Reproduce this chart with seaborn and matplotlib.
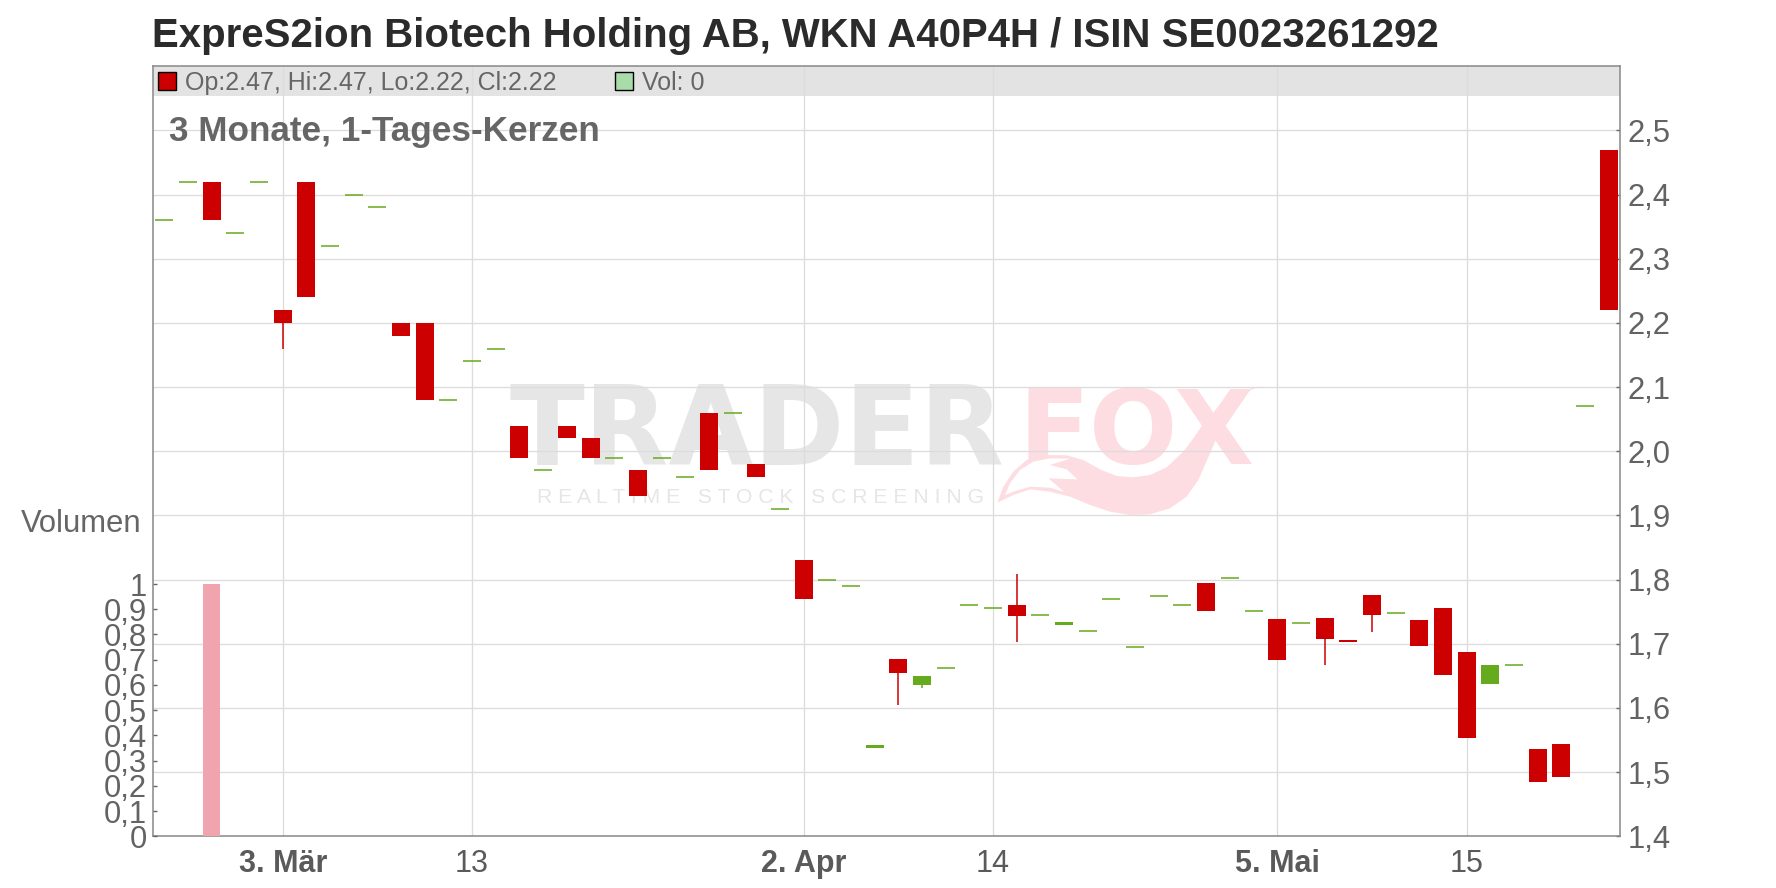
import numpy as np
import pandas as pd
import matplotlib
matplotlib.use('Agg')
import matplotlib.pyplot as plt
from matplotlib.patches import Polygon, Rectangle
from matplotlib.transforms import Affine2D
import seaborn as sns

# ----------------------------------------------------------------------
# Data (x = trading day index)
# ----------------------------------------------------------------------
red_idx = [2, 5, 6, 10, 11, 15, 17, 18, 20, 23, 25, 27, 31, 36, 44, 47, 49, 50, 51, 53, 54, 55, 58, 59, 61]
red_top = [2.42, 2.22, 2.42, 2.20, 2.20, 2.04, 2.04, 2.02, 1.97, 2.06, 1.98, 1.83, 1.677, 1.76, 1.795,
           1.739, 1.74, 1.706, 1.776, 1.737, 1.756, 1.687, 1.536, 1.544, 2.47]
red_bottom = [2.36, 2.20, 2.24, 2.18, 2.08, 1.99, 2.02, 1.99, 1.93, 1.97, 1.96, 1.77, 1.655, 1.744, 1.751,
              1.674, 1.707, 1.703, 1.745, 1.697, 1.651, 1.553, 1.485, 1.493, 2.22]

green_idx = [30, 32, 38, 56]
green_top = [1.542, 1.65, 1.734, 1.667]
green_bottom = [1.538, 1.635, 1.73, 1.638]

dash_idx = [0, 1, 3, 4, 7, 8, 9, 12, 13, 14, 16, 19, 21, 22, 24, 26, 28, 29, 33, 34, 35, 37, 39, 40, 41,
            42, 43, 45, 46, 48, 52, 57, 60]
dash_val = [2.36, 2.42, 2.34, 2.42, 2.32, 2.40, 2.38, 2.08, 2.14, 2.16, 1.97, 1.99, 1.99, 1.96, 2.06,
            1.91, 1.80, 1.79, 1.662, 1.76, 1.755, 1.745, 1.72, 1.77, 1.695, 1.775, 1.76, 1.802, 1.751,
            1.732, 1.748, 1.667, 2.07]

wick_idx = [5, 31, 36, 49, 51]
wick_low = [2.16, 1.605, 1.703, 1.667, 1.719]
wick_high = [2.20, 1.655, 1.808, 1.707, 1.745]
green_wick_idx = [32]
green_wick_low = [1.631]
green_wick_high = [1.635]

vol_idx = [2]
vol_val = [1]

price_ticks = [1.4, 1.5, 1.6, 1.7, 1.8, 1.9, 2.0, 2.1, 2.2, 2.3, 2.4, 2.5]
vol_ticks = [0, 0.1, 0.2, 0.3, 0.4, 0.5, 0.6, 0.7, 0.8, 0.9, 1]
date_idx = [5, 13, 27, 35, 47, 55]
date_labels = ['3. Mär', '13', '2. Apr', '14', '5. Mai', '15']
date_bold = [True, False, True, False, True, False]

RED = '#cc0000'
GREEN = '#66aa1e'
GREY_TXT = '#666666'
PINK = '#fddde2'
W, H = 1776, 888

sns.set_theme(style='white')
plt.rcParams['font.family'] = ['Liberation Sans', 'DejaVu Sans']

fig = plt.figure(figsize=(W / 100, H / 100), dpi=100, facecolor='white')
ax = fig.add_axes([152.7 / W, 1 - 836.3 / H, (1620.3 - 152.7) / W, (836.3 - 65.7) / H])
px = Affine2D().scale(1, -1).translate(0, H)  # top-left pixel coords

# ----------------------------------------------------------------------
# Candles
# ----------------------------------------------------------------------
bodies = pd.DataFrame({
    'idx': red_idx + green_idx,
    'top': red_top + green_top,
    'bottom': red_bottom + green_bottom,
    'col': [RED] * len(red_idx) + [GREEN] * len(green_idx),
}).sort_values('idx')
bodies['height'] = bodies['top'] - bodies['bottom']

sns.barplot(data=bodies, x='idx', y='height', bottom=bodies['bottom'].values, native_scale=True,
            width=0.76, errorbar=None, saturation=1, color=RED, linewidth=0, ax=ax, zorder=3)
for patch, col in zip(ax.patches, bodies['col']):
    patch.set_facecolor(col)
    patch.set_edgecolor(col)

ax.vlines(wick_idx, wick_low, wick_high, color=RED, lw=1.1, zorder=2.5)
ax.vlines(green_wick_idx, green_wick_low, green_wick_high, color=GREEN, lw=1.1, zorder=2.5)
sns.scatterplot(x=dash_idx, y=dash_val, marker='_', s=168, color=GREEN, linewidth=1.1, ax=ax, zorder=3)

ax.set_xlim(-0.49, 61.49)
ax.set_ylim(1.4, 2.6007)
ax.set_xlabel('')
ax.set_ylabel('')

# header band
ax.axhspan(2.554, 2.6007, color='#e3e3e3', lw=0, zorder=0.4)

# ----------------------------------------------------------------------
# Axes, grid, ticks
# ----------------------------------------------------------------------
ax2 = ax.twinx()  # volume gets its own left axis, twinx flips the sides so fix them below

ax.set_axisbelow(True)
ax.set_xticks(date_idx)
ax.set_xticklabels(date_labels)
for lab, bold in zip(ax.get_xticklabels(), date_bold):
    lab.set_fontweight('bold' if bold else 'normal')
ax.yaxis.tick_right()
ax.set_yticks(price_ticks)
ax.set_yticklabels([f'{v:.1f}'.replace('.', ',') for v in price_ticks])
ax.grid(True, color='#dcdcdc', lw=0.95)
ax.tick_params(axis='x', direction='out', length=2.5, width=1, color='#666666',
               labelsize=22, labelcolor='#5a5a5a', pad=7)
ax.tick_params(axis='y', direction='in', length=3.1, width=1, color='#666666',
               labelsize=22.3, labelcolor='#636363', pad=5)
for s in ax.spines.values():
    s.set_color('#888888')
    s.set_linewidth(1.1)

vol = pd.DataFrame({'idx': vol_idx, 'vol': vol_val})
sns.barplot(data=vol, x='idx', y='vol', native_scale=True, width=0.72, errorbar=None, saturation=1,
            color='#efa4ae', linewidth=0, ax=ax2)
ax2.set_xlim(-0.49, 61.49)
ax2.set_ylim(0, (836.3 - 65.7) / 252.3)
ax2.set_xlabel('')
ax2.set_ylabel('')
ax2.yaxis.tick_left()
ax2.set_yticks(vol_ticks)
ax2.set_yticklabels(['0' if v == 0 else '1' if v == 1 else f'{v:.1f}'.replace('.', ',') for v in vol_ticks])
ax2.tick_params(axis='y', direction='in', length=3.1, width=1, color='#666666',
                labelsize=22.3, labelcolor='#636363', pad=4)
ax2.grid(False)
for s in ax2.spines.values():
    s.set_visible(False)

# ----------------------------------------------------------------------
# Watermark
# ----------------------------------------------------------------------
ax.text(509, 465, 'TRADER', transform=px, fontsize=79, fontweight='bold', family='DejaVu Sans',
        color='#e6e6e6', va='baseline', ha='left', zorder=0.3)
ax.text(1018, 464, 'FOX', transform=px, fontsize=75, fontweight='bold', family='DejaVu Sans',
        color=PINK, va='baseline', ha='left', zorder=0.3)
ax.text(537, 503, 'R E A L T I M E   S T O C K   S C R E E N I N G', transform=px, fontsize=15.2,
        color='#e6e6e6', va='baseline', ha='left', zorder=0.3)


def logo_pt(zx, zy):
    return 990 + zx / 3, 380 + zy / 3


tail = [(22, 368), (40, 320), (70, 275), (110, 240), (170, 225), (230, 226), (280, 240), (330, 268),
        (380, 288), (430, 292), (480, 285), (530, 262), (580, 215), (630, 150), (680, 85), (730, 40),
        (810, 18), (760, 40), (720, 85), (690, 150), (660, 220), (625, 300), (590, 350), (540, 385),
        (480, 403), (420, 405), (360, 395), (300, 375), (240, 350), (180, 335), (120, 328), (70, 345)]
notch = [(45, 345), (60, 310), (90, 270), (130, 245), (180, 235), (240, 236), (180, 255), (230, 268),
         (262, 298), (175, 295), (222, 335), (180, 323), (120, 320), (70, 335)]
ax.add_patch(Polygon([logo_pt(*p) for p in tail], closed=True, transform=px, facecolor=PINK,
                     edgecolor='none', zorder=0.31))
ax.add_patch(Polygon([logo_pt(*p) for p in notch], closed=True, transform=px, facecolor='white',
                     edgecolor='none', zorder=0.32))

# ----------------------------------------------------------------------
# Texts
# ----------------------------------------------------------------------
fig.text(152 / W, 1 - 46.7 / H, 'ExpreS2ion Biotech Holding AB, WKN A40P4H / ISIN SE0023261292',
         fontsize=28.9, fontweight='bold', color='#2b2b2b', va='baseline')
fig.text(169 / W, 1 - 140.5 / H, '3 Monate, 1-Tages-Kerzen', fontsize=25.3, fontweight='bold',
         color=GREY_TXT, va='baseline')
fig.text(185 / W, 1 - 90 / H, 'Op:2.47, Hi:2.47, Lo:2.22, Cl:2.22', fontsize=18, color=GREY_TXT, va='baseline')
fig.text(642 / W, 1 - 90 / H, 'Vol: 0', fontsize=18, color=GREY_TXT, va='baseline')
fig.text(141 / W, 1 - 532 / H, 'Volumen', fontsize=22.3, color=GREY_TXT, va='baseline', ha='right')

fig.add_artist(Rectangle((157.5 / W, 1 - 90.5 / H), 18 / W, 18 / H, transform=fig.transFigure,
                         facecolor=RED, edgecolor='black', lw=1))
fig.add_artist(Rectangle((614.5 / W, 1 - 90.5 / H), 18 / W, 18 / H, transform=fig.transFigure,
                         facecolor='#aadcaa', edgecolor='black', lw=1))

fig.savefig('out.png', dpi=100)
